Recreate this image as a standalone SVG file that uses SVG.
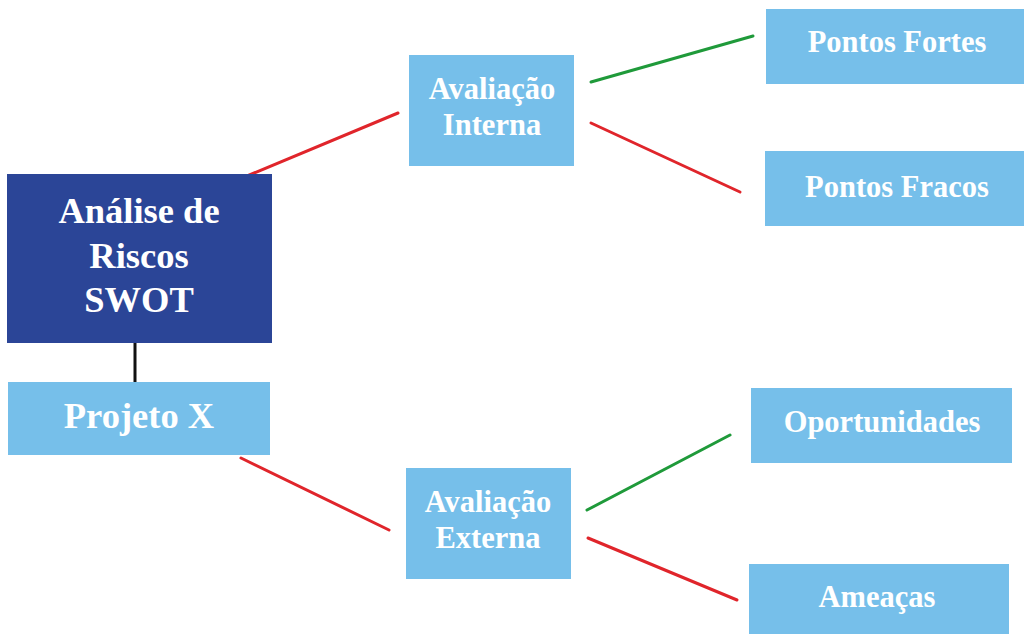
<svg xmlns="http://www.w3.org/2000/svg" width="1024" height="634" viewBox="0 0 1024 634">
  <style>
    .box { fill: #76bfea; }
    .main { fill: #2b4597; }
    .lbl { font-family: "Liberation Serif", "Times New Roman", serif; font-weight: bold; fill: #ffffff; text-anchor: middle; }
    .big { font-size: 36.5px; }
    .mid { font-size: 30.5px; }
    .red { stroke: #e0252b; stroke-width: 3; }
    .green { stroke: #1f9a3a; stroke-width: 3; }
    .black { stroke: #111111; stroke-width: 3; }
  </style>
  <rect width="1024" height="634" fill="#ffffff"/>

  <!-- connectors -->
  <g id="connectors" fill="none" stroke-linecap="round">
    <line class="black" x1="135" y1="343" x2="135" y2="382"/>
    <line class="red" x1="247" y1="176" x2="398" y2="113"/>
    <line class="green" x1="591" y1="82" x2="753" y2="36"/>
    <line class="red" x1="591" y1="123" x2="740" y2="192"/>
    <line class="red" x1="241" y1="458" x2="389" y2="530"/>
    <line class="green" x1="587" y1="510" x2="730" y2="435"/>
    <line class="red" x1="588" y1="538" x2="737" y2="600"/>
  </g>

  <!-- nodes -->
  <g id="swot">
    <rect class="main" x="7" y="174" width="265" height="169"/>
    <text class="lbl big" x="139" y="223">Análise de</text>
    <text class="lbl big" x="139" y="268">Riscos</text>
    <text class="lbl big" x="139" y="312">SWOT</text>
  </g>
  <g id="projeto">
    <rect class="box" x="8" y="382" width="262" height="73"/>
    <text class="lbl big" x="139" y="428">Projeto X</text>
  </g>
  <g id="interna">
    <rect class="box" x="409" y="55" width="165" height="111"/>
    <text class="lbl mid" x="492" y="99">Avaliação</text>
    <text class="lbl mid" x="492" y="135">Interna</text>
  </g>
  <g id="externa">
    <rect class="box" x="406" y="468" width="165" height="111"/>
    <text class="lbl mid" x="488" y="512">Avaliação</text>
    <text class="lbl mid" x="488" y="548">Externa</text>
  </g>
  <g id="fortes">
    <rect class="box" x="766" y="9" width="258" height="75"/>
    <text class="lbl mid" x="897" y="52">Pontos Fortes</text>
  </g>
  <g id="fracos">
    <rect class="box" x="765" y="151" width="259" height="75"/>
    <text class="lbl mid" x="897" y="197">Pontos Fracos</text>
  </g>
  <g id="oportunidades">
    <rect class="box" x="751" y="388" width="261" height="75"/>
    <text class="lbl mid" x="882" y="432">Oportunidades</text>
  </g>
  <g id="ameacas">
    <rect class="box" x="749" y="564" width="260" height="70"/>
    <text class="lbl mid" x="877" y="607">Ameaças</text>
  </g>
</svg>
